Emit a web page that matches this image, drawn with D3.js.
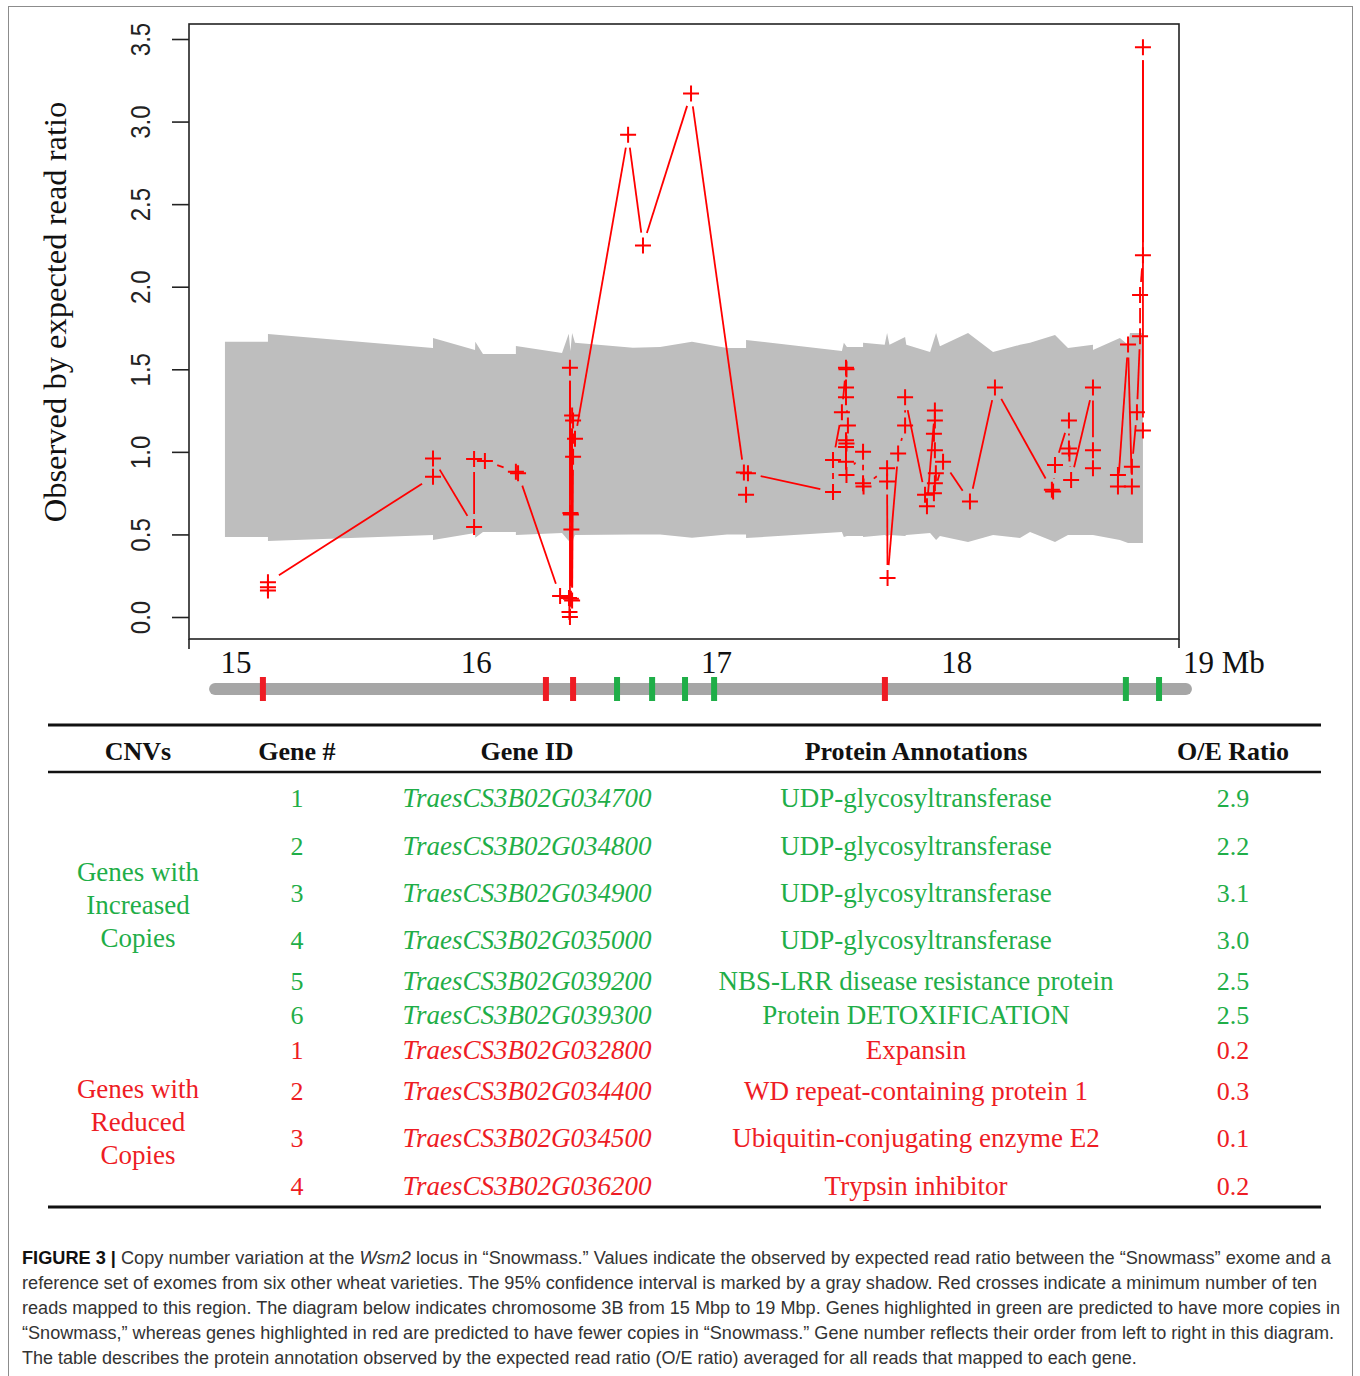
<!DOCTYPE html>
<html>
<head>
<meta charset="utf-8">
<script src="https://cdn.jsdelivr.net/npm/d3@7"></script>
<style>
  body { margin: 0; background: #fff; }
  svg { display: block; }
  .serif { font-family: "Liberation Serif", "Times New Roman", serif; }
  .sans { font-family: "Liberation Sans", Arial, sans-serif; }
</style>
</head>
<body>
<svg id="fig" width="1360" height="1376"></svg>
<script>
// ---- data: observed / expected read ratio along chr 3B (Mb) ----
var ratioPos = [15.133, 15.133, 15.133, 15.820, 15.820, 15.991, 15.991, 16.036, 16.165, 16.174,
  16.349, 16.386, 16.388, 16.390, 16.390, 16.392, 16.394, 16.394, 16.396, 16.399,
  16.399, 16.403, 16.403, 16.411, 16.632, 16.694, 16.894, 17.114, 17.123, 17.131,
  17.485, 17.485, 17.522, 17.539, 17.541, 17.539, 17.539, 17.547, 17.539, 17.541,
  17.539, 17.539, 17.541, 17.610, 17.610, 17.612, 17.710, 17.710, 17.712, 17.756,
  17.785, 17.785, 17.868, 17.876, 17.909, 17.909, 17.905, 17.909, 17.913, 17.909,
  17.905, 17.943, 18.055, 18.159, 18.396, 18.401, 18.409, 18.467, 18.467, 18.469,
  18.476, 18.567, 18.567, 18.567, 18.671, 18.671, 18.713, 18.729, 18.729, 18.750,
  18.763, 18.763, 18.775, 18.775, 18.775];
var ratioVal = [0.16, 0.18, 0.21, 0.85, 0.96, 0.545, 0.957, 0.945, 0.88, 0.87,
  0.127, 0.115, 0.03, 0.0, 1.51, 0.63, 0.11, 0.62, 0.53, 1.22,
  0.10, 0.97, 1.19, 1.08, 2.92, 2.25, 3.17, 0.875, 0.74, 0.87,
  0.757, 0.95, 1.24, 1.51, 1.50, 1.39, 1.33, 1.16, 1.07, 1.05,
  1.03, 0.94, 0.86, 1.00, 0.81, 0.79, 0.90, 0.82, 0.236, 0.99,
  1.16, 1.33, 0.74, 0.67, 1.25, 1.19, 1.11, 1.01, 0.87, 0.81,
  0.75, 0.94, 0.70, 1.39, 0.77, 0.76, 0.92, 1.19, 1.02, 0.99,
  0.83, 1.39, 1.01, 0.90, 0.86, 0.79, 1.65, 0.79, 0.91, 1.24,
  1.70, 1.95, 2.19, 3.45, 1.13];

// 95% confidence interval (gray shadow)
var bandPos = [14.954, 15.133, 15.133, 15.820, 15.820, 15.995, 15.996, 16.028, 16.165, 16.165,
  16.357, 16.385, 16.392, 16.399, 16.411, 16.652, 16.765, 16.898, 17.044, 17.123,
  17.123, 17.522, 17.530, 17.543, 17.610, 17.610, 17.700, 17.710, 17.720, 17.785,
  17.790, 17.889, 17.914, 17.930, 18.047, 18.151, 18.263, 18.305, 18.409, 18.463,
  18.567, 18.567, 18.679, 18.713, 18.721, 18.775];
var bandHigh = [1.666, 1.666, 1.714, 1.629, 1.690, 1.617, 1.666, 1.593, 1.593, 1.641,
  1.599, 1.715, 1.610, 1.720, 1.660, 1.630, 1.635, 1.666, 1.629, 1.629,
  1.678, 1.611, 1.660, 1.635, 1.635, 1.660, 1.648, 1.720, 1.648, 1.696,
  1.648, 1.605, 1.720, 1.640, 1.720, 1.605, 1.648, 1.660, 1.708, 1.629,
  1.648, 1.617, 1.690, 1.648, 1.720, 1.720];
var bandLow = [0.485, 0.485, 0.460, 0.497, 0.466, 0.509, 0.480, 0.515, 0.515, 0.497,
  0.509, 0.460, 0.510, 0.455, 0.497, 0.500, 0.500, 0.480, 0.500, 0.500,
  0.478, 0.515, 0.485, 0.491, 0.491, 0.485, 0.497, 0.491, 0.497, 0.490,
  0.497, 0.509, 0.466, 0.490, 0.454, 0.497, 0.478, 0.515, 0.454, 0.497,
  0.497, 0.497, 0.466, 0.448, 0.448, 0.448];

var yTicks = [0, 0.5, 1.0, 1.5, 2.0, 2.5, 3.0, 3.5];
var mbTicks = [15, 16, 17, 18, 19];

// chromosome diagram
var chromStart = 14.888, chromEnd = 18.979;
var genePos = [15.112, 16.290, 16.403, 16.586, 16.732, 16.869, 16.990, 17.701, 18.704, 18.842];
var geneCnv = ["red", "red", "red", "green", "green", "green", "green", "red", "green", "green"];

// table
var headers = ["CNVs", "Gene #", "Gene ID", "Protein Annotations", "O/E Ratio"];
var rowCnv = ["green", "green", "green", "green", "green", "green", "red", "red", "red", "red"];
var geneNum = ["1", "2", "3", "4", "5", "6", "1", "2", "3", "4"];
var geneId = ["TraesCS3B02G034700", "TraesCS3B02G034800", "TraesCS3B02G034900", "TraesCS3B02G035000",
  "TraesCS3B02G039200", "TraesCS3B02G039300", "TraesCS3B02G032800", "TraesCS3B02G034400",
  "TraesCS3B02G034500", "TraesCS3B02G036200"];
var protein = ["UDP-glycosyltransferase", "UDP-glycosyltransferase", "UDP-glycosyltransferase",
  "UDP-glycosyltransferase", "NBS-LRR disease resistance protein", "Protein DETOXIFICATION",
  "Expansin", "WD repeat-containing protein 1", "Ubiquitin-conjugating enzyme E2", "Trypsin inhibitor"];
var oeRatio = ["2.9", "2.2", "3.1", "3.0", "2.5", "2.5", "0.2", "0.3", "0.1", "0.2"];
var groupLabel = {green: ["Genes with", "Increased", "Copies"], red: ["Genes with", "Reduced", "Copies"]};

var captionLines = [
  [["b", "FIGURE 3 | "], ["n", "Copy number variation at the "], ["i", "Wsm2"], ["n", " locus in \u201cSnowmass.\u201d Values indicate the observed by expected read ratio between the \u201cSnowmass\u201d exome and a"]],
  [["n", "reference set of exomes from six other wheat varieties. The 95% confidence interval is marked by a gray shadow. Red crosses indicate a minimum number of ten"]],
  [["n", "reads mapped to this region. The diagram below indicates chromosome 3B from 15 Mbp to 19 Mbp. Genes highlighted in green are predicted to have more copies in"]],
  [["n", "\u201cSnowmass,\u201d whereas genes highlighted in red are predicted to have fewer copies in \u201cSnowmass.\u201d Gene number reflects their order from left to right in this diagram."]],
  [["n", "The table describes the protein annotation observed by the expected read ratio (O/E ratio) averaged for all reads that mapped to each gene."]]
];

// ---- layout ----
var RED = "#ff0000", GREEN = "#1fae48", TRED = "#ee1c24";
var box = {left: 189, right: 1179, top: 24, bottom: 639};
var svg = d3.select("#fig");

svg.append("rect").attr("width", 1360).attr("height", 1376).attr("fill", "#fff");
svg.append("rect").attr("x", 8.5).attr("y", 6.5).attr("width", 1344).attr("height", 1400)
  .attr("fill", "none").attr("stroke", "#8c8c8c").attr("stroke-width", 1);

var x = d3.scaleLinear().domain([15, 19]).range([236, 1197]);
var y = d3.scaleLinear().domain([0, 3.5]).range([617, 39]);

// gray confidence band
var band = bandPos.map(function(p, i) { return {pos: p, lo: bandLow[i], hi: bandHigh[i]}; });
svg.append("path")
  .datum(band)
  .attr("fill", "#bebebe")
  .attr("d", d3.area().x(function(d) { return x(d.pos); })
    .y0(function(d) { return y(d.lo); })
    .y1(function(d) { return y(d.hi); }));

// points + lines with gaps (like R type="b")
var pts = ratioPos.map(function(p, i) { return [x(p), y(ratioVal[i])]; });
var gap = 13;
var segs = [];
for (var i = 1; i < pts.length; i++) {
  var a = pts[i - 1], b = pts[i];
  var dx = b[0] - a[0], dy = b[1] - a[1], len = Math.sqrt(dx * dx + dy * dy);
  if (len > 2 * gap) {
    var ux = dx / len, uy = dy / len;
    segs.push([a[0] + ux * gap, a[1] + uy * gap, b[0] - ux * gap, b[1] - uy * gap]);
  }
}
svg.append("g").selectAll("line").data(segs).join("line")
  .attr("x1", function(d) { return d[0]; }).attr("y1", function(d) { return d[1]; })
  .attr("x2", function(d) { return d[2]; }).attr("y2", function(d) { return d[3]; })
  .attr("stroke", RED).attr("stroke-width", 1.8);
svg.append("g").selectAll("path").data(pts).join("path")
  .attr("d", function(d) { return "M" + (d[0] - 8) + "," + d[1] + "H" + (d[0] + 8) + "M" + d[0] + "," + (d[1] - 8) + "V" + (d[1] + 8); })
  .attr("stroke", RED).attr("stroke-width", 2).attr("fill", "none");

// plot frame
svg.append("rect").attr("x", box.left).attr("y", box.top)
  .attr("width", box.right - box.left).attr("height", box.bottom - box.top)
  .attr("fill", "none").attr("stroke", "#222").attr("stroke-width", 1.6);
svg.append("path").attr("d", "M" + box.left + "," + box.bottom + "V" + (box.bottom + 10) + "M" + box.right + "," + box.bottom + "V" + (box.bottom + 9))
  .attr("stroke", "#222").attr("stroke-width", 1.6);

// y axis
var yAxis = svg.append("g").attr("transform", "translate(" + box.left + ",0)")
  .call(d3.axisLeft(y).tickValues(yTicks).tickSize(17).tickFormat(d3.format(".1f")));
yAxis.select(".domain").remove();
yAxis.selectAll(".tick line").attr("stroke", "#222").attr("stroke-width", 1.6);
yAxis.selectAll(".tick text")
  .attr("class", "sans")
  .attr("font-size", 28)
  .attr("fill", "#222")
  .attr("transform", "translate(-49,0) rotate(-90) scale(0.86,1)")
  .attr("x", 0).attr("dy", "0.35em")
  .style("text-anchor", "middle");

svg.append("text").attr("class", "serif")
  .attr("transform", "translate(66,312) rotate(-90)")
  .attr("text-anchor", "middle").attr("font-size", 32.5).attr("fill", "#111")
  .text("Observed by expected read ratio");

// Mb labels
svg.append("g").selectAll("text").data(mbTicks).join("text")
  .attr("class", "serif")
  .attr("x", function(d) { return x(d); })
  .attr("y", 673)
  .attr("text-anchor", function(d) { return d === 19 ? "start" : "middle"; })
  .attr("dx", function(d) { return d === 19 ? -14 : 0; })
  .attr("font-size", 31).attr("fill", "#111")
  .text(function(d) { return d === 19 ? "19 Mb" : d; });

// chromosome bar
svg.append("rect").attr("x", x(chromStart)).attr("y", 683)
  .attr("width", x(chromEnd) - x(chromStart)).attr("height", 12).attr("rx", 6)
  .attr("fill", "#a6a6a6");
svg.append("g").selectAll("rect").data(genePos).join("rect")
  .attr("x", function(d) { return x(d) - 3; }).attr("y", 677)
  .attr("width", 6).attr("height", 24)
  .attr("fill", function(d, i) { return geneCnv[i] === "red" ? TRED : GREEN; });

// ---- table ----
var tl = 48, tr = 1321;
var colX = [138, 297, 527, 916, 1233];
var rowY = [798, 846, 893, 940, 981, 1015, 1050, 1091, 1138, 1186];
svg.append("line").attr("x1", tl).attr("x2", tr).attr("y1", 725).attr("y2", 725).attr("stroke", "#111").attr("stroke-width", 3);
svg.append("line").attr("x1", tl).attr("x2", tr).attr("y1", 772).attr("y2", 772).attr("stroke", "#111").attr("stroke-width", 2.5);
svg.append("line").attr("x1", tl).attr("x2", tr).attr("y1", 1207).attr("y2", 1207).attr("stroke", "#111").attr("stroke-width", 3);

svg.append("g").selectAll("text").data(headers).join("text")
  .attr("class", "serif").attr("font-weight", "bold").attr("font-size", 26)
  .attr("x", function(d, i) { return colX[i]; }).attr("y", 751).attr("dy", "0.35em")
  .attr("text-anchor", "middle").attr("fill", "#111")
  .text(function(d) { return d; });

var rows = svg.append("g").selectAll("g").data(geneId).join("g")
  .attr("transform", function(d, i) { return "translate(0," + rowY[i] + ")"; })
  .attr("fill", function(d, i) { return rowCnv[i] === "red" ? TRED : GREEN; });
rows.append("text").attr("class", "serif").attr("font-size", 26).attr("x", colX[1]).attr("dy", "0.35em")
  .attr("text-anchor", "middle").text(function(d, i) { return geneNum[i]; });
rows.append("text").attr("class", "serif").attr("font-size", 27).attr("font-style", "italic").attr("x", colX[2]).attr("dy", "0.35em")
  .attr("text-anchor", "middle").text(function(d) { return d; });
rows.append("text").attr("class", "serif").attr("font-size", 27).attr("x", colX[3]).attr("dy", "0.35em")
  .attr("text-anchor", "middle").text(function(d, i) { return protein[i]; });
rows.append("text").attr("class", "serif").attr("font-size", 26).attr("x", colX[4]).attr("dy", "0.35em")
  .attr("text-anchor", "middle").text(function(d, i) { return oeRatio[i]; });

[["green", 872], ["red", 1089]].forEach(function(g) {
  svg.append("g").selectAll("text").data(groupLabel[g[0]]).join("text")
    .attr("class", "serif").attr("font-size", 27)
    .attr("x", colX[0]).attr("y", function(d, i) { return g[1] + i * 33; }).attr("dy", "0.35em")
    .attr("text-anchor", "middle").attr("fill", g[0] === "red" ? TRED : GREEN)
    .text(function(d) { return d; });
});

// ---- caption ----
var capWidths = [1310, 1296, 1319, 1312, 1115];
captionLines.forEach(function(parts, li) {
  var t = svg.append("text").attr("class", "sans").attr("font-size", 18.5).attr("fill", "#333")
    .attr("x", 22).attr("y", 1264 + li * 25);
  parts.forEach(function(p) {
    var s = t.append("tspan").text(p[1]);
    if (p[0] === "b") s.attr("font-weight", "bold").attr("fill", "#111");
    if (p[0] === "i") s.attr("font-style", "italic");
  });
  var w = t.node().getComputedTextLength();
  t.attr("transform", "translate(22,0) scale(" + (capWidths[li] / w) + ",1) translate(-22,0)");
});
</script>
</body>
</html>
